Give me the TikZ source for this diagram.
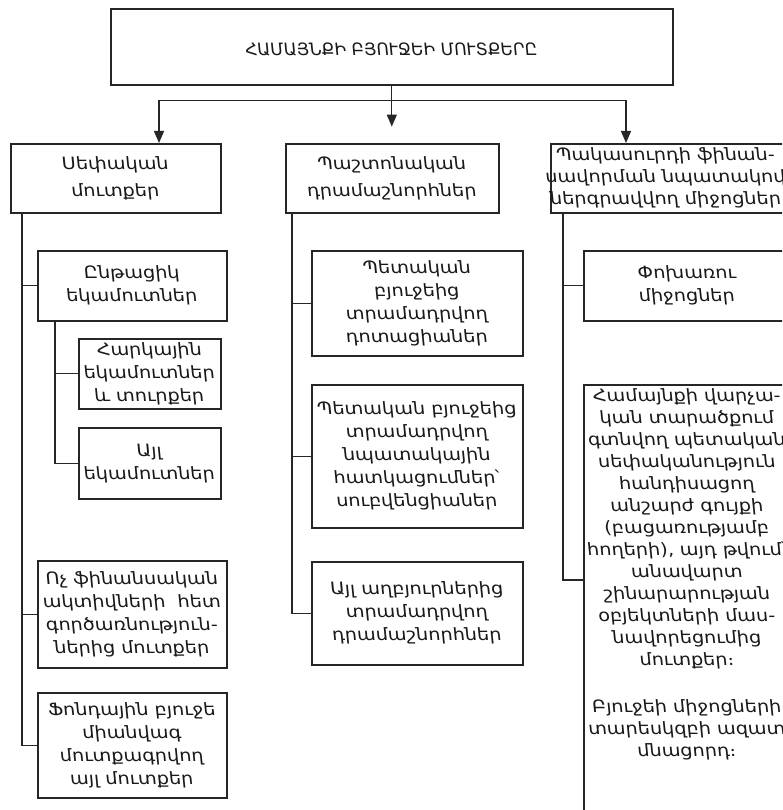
\documentclass[tikz,border=0pt]{standalone}
\usepackage{fontspec}
\setmainfont{DejaVu Sans}[FakeStretch=1.13,FakeSlant=-0.1]
\newfontfamily\titlefont{DejaVu Sans}[FakeSlant=-0.1]
\usetikzlibrary{arrows.meta,calc}
\begin{document}
\begin{tikzpicture}[x=1pt,y=-1pt,
  frame/.style={draw=black!85,line width=1.6pt},
  box/.style={frame,fill=white,inner sep=0pt,align=center,anchor=north west,
    text=black!90,font=\fontsize{17}{23}\selectfont},
  head/.style={box,font=\fontsize{17}{27}\selectfont},
  link/.style={draw=black!85,line width=1.3pt},
  arr/.style={link,-{Triangle[length=12pt,width=10pt]}},
]
\useasboundingbox (0,0) rectangle (782,810);
\begin{scope}
\clip (0,0) rectangle (782,810);

% title
\node[box,font=\titlefont\fontsize{17}{23}\selectfont,minimum width=562pt,minimum height=76pt,
  text height=20pt,text depth=1.6pt] (T) at (110,8)
  {ՀԱՄԱՅՆՔԻ ԲՅՈՒՋԵԻ ՄՈՒՏՔԵՐԸ};

% column headers
\node[head,minimum width=210pt,minimum height=69pt] (L0) at (10,143) {Սեփական\\մուտքեր};
\node[head,minimum width=213pt,minimum height=69pt] (M0) at (285,143) {Պաշտոնական\\դրամաշնորհներ};
\node[frame,anchor=north west,inner sep=0pt,minimum width=250pt,minimum height=69pt] (R0) at (550,143) {};
\node[align=center,text=black!90,font=\fontsize{17}{22}\selectfont,inner sep=0pt] (R0t) at (666,178)
  {Պակասուրդի ֆինան-\\սավորման նպատակով\\ներգրավվող միջոցներ};

% own revenues
\node[box,minimum width=189pt,minimum height=70pt] (L1) at (37,250) {Ընթացիկ\\եկամուտներ};
\node[box,minimum width=142pt,minimum height=70pt] (L1a) at (78,338) {Հարկային\\եկամուտներ\\և տուրքեր};
\node[box,minimum width=142pt,minimum height=71pt] (L1b) at (78,427) {Այլ\\եկամուտներ};
\node[box,minimum width=189pt,minimum height=107pt] (L2) at (37,560)
  {Ոչ ֆինանսական\\ակտիվների\ \ հետ\\գործառնություն-\\ներից մուտքեր};
\node[box,minimum width=189pt,minimum height=105pt] (L3) at (37,692)
  {Ֆոնդային բյուջե\\միանվագ\\մուտքագրվող\\այլ մուտքեր};

% official grants
\node[box,minimum width=211pt,minimum height=105pt] (M1) at (311,250)
  {Պետական\\բյուջեից\\տրամադրվող\\դոտացիաներ};
\node[box,minimum width=211pt,minimum height=143pt] (M2) at (311,384)
  {Պետական բյուջեից\\տրամադրվող\\նպատակային\\հատկացումներ՝\\սուբվենցիաներ};
\node[box,minimum width=211pt,minimum height=103pt] (M3) at (311,561)
  {Այլ աղբյուրներից\\տրամադրվող\\դրամաշնորհներ};

% deficit financing
\node[box,minimum width=207pt,minimum height=70pt] (R1) at (583,250) {Փոխառու\\միջոցներ};
\node[box,minimum width=207pt,inner ysep=4pt,text depth=110pt,font=\fontsize{17}{22}\selectfont] (R2) at (583,384)
  {Համայնքի վարչա-\\կան տարածքում\\գտնվող պետական\\սեփականություն\\հանդիսացող\\անշարժ գույքի\\(բացառությամբ\\հողերի), այդ թվում՝\\անավարտ\\շինարարության\\օբյեկտների մաս-\\նավորեցումից\\մուտքեր։\\[25pt]Բյուջեի միջոցների\\տարեսկզբի ազատ\\մնացորդ։};

% arrows from the title
\coordinate (bar) at ($(T.south)+(0,15)$);
\coordinate (midtip) at ($(T.south)+(0,41)$);
\draw[arr] (T.south) -- (midtip);
\draw[arr] (bar) -| ($(L0.north west)+(149,0)$);
\draw[arr] (bar) -| ($(R0.north west)+(76,0)$);

% trunks and branches
\draw[link] (L0.south west) ++(12,0) |- (L1.west);
\draw[link] (L0.south west) ++(12,0) |- (L2.west);
\draw[link] (L0.south west) ++(12,0) |- (L3.west);
\draw[link] (L1.south west) ++(18,0) |- (L1a.west);
\draw[link] (L1.south west) ++(18,0) |- (L1b.west);
\draw[link] (M0.south west) ++(7,0) |- (M1.west);
\draw[link] (M0.south west) ++(7,0) |- (M2.west);
\draw[link] (M0.south west) ++(7,0) |- (M3.west);
\draw[link] (R0.south west) ++(13,0) |- (R1.west);
\draw[link] (R0.south west) ++(13,0) |- ($(R2.north west)+(0,196)$);
\end{scope}
\end{tikzpicture}
\end{document}
